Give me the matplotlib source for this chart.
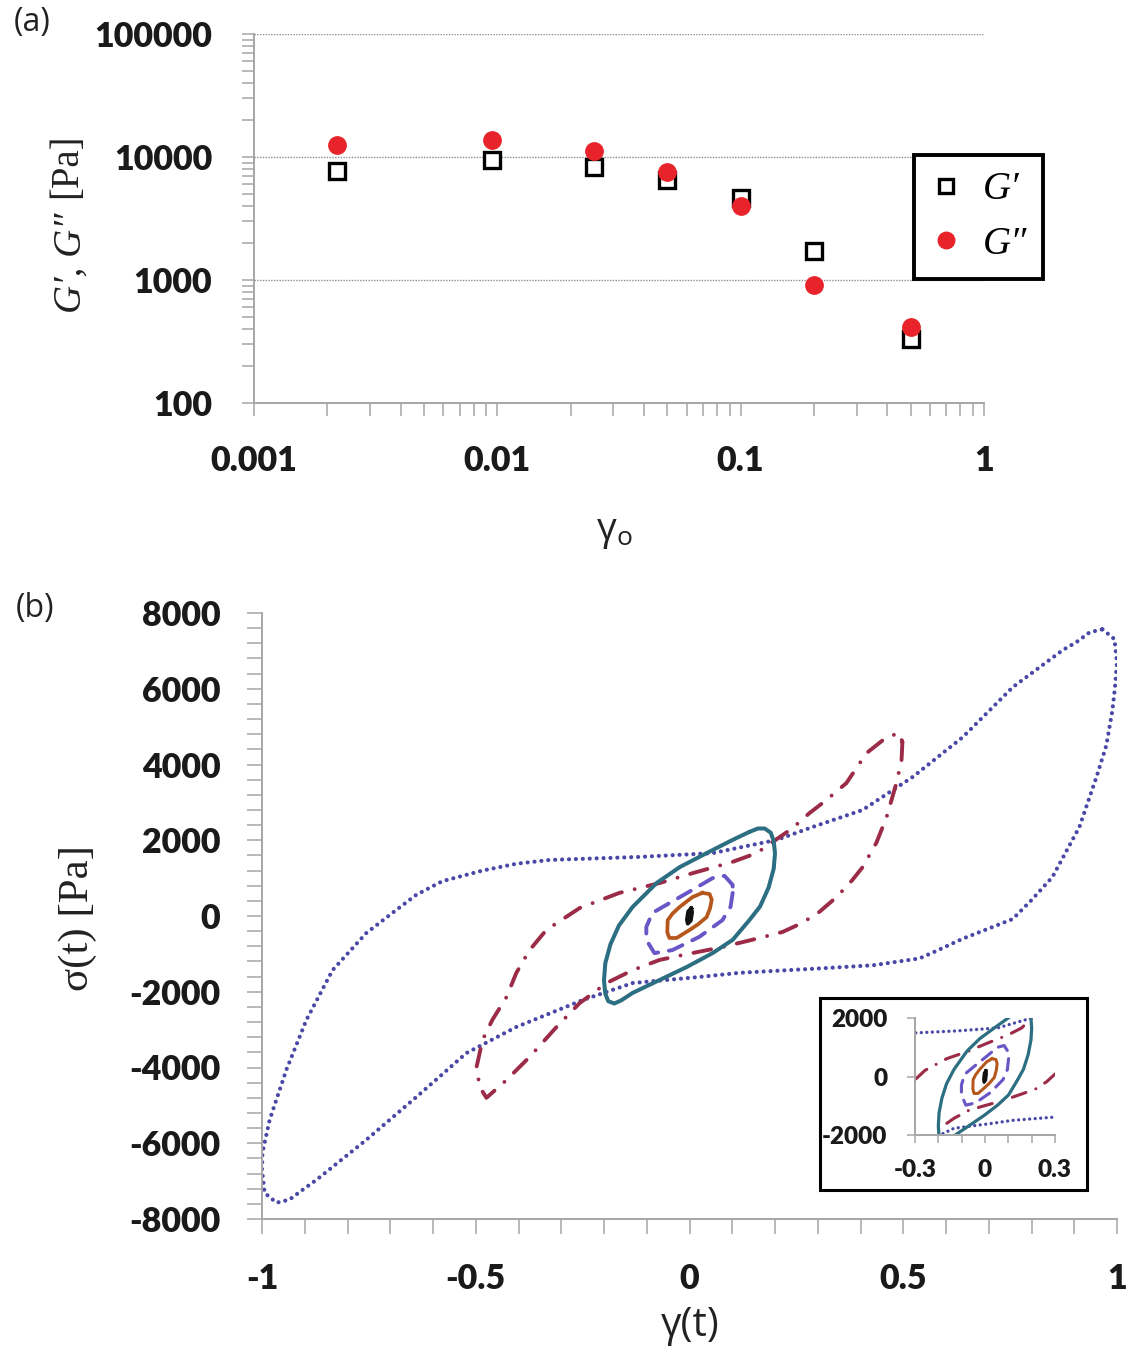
import matplotlib
matplotlib.use("Agg")
import matplotlib.pyplot as plt
from matplotlib.patches import Rectangle
from matplotlib.ticker import FixedLocator, FixedFormatter, LogLocator, MultipleLocator, NullFormatter

# ---------------- (a) strain-amplitude sweep ----------------
gamma0 = [0.0022, 0.0095, 0.025, 0.05, 0.1, 0.2, 0.5]
G_storage = [7700, 9450, 8300, 6500, 4650, 1720, 330]
G_loss = [12500, 13700, 11200, 7550, 4000, 910, 415]

a_xticks = [0.001, 0.01, 0.1, 1]
a_xticklabels = ["0.001", "0.01", "0.1", "1"]
a_yticks = [100, 1000, 10000, 100000]
a_yticklabels = ["100", "1000", "10000", "100000"]

# ---------------- (b) Lissajous loops, stress vs strain ----------------
strain_100 = [0.966, 0.994, 1.0, 0.995, 0.989, 0.975, 0.952, 0.912, 0.849, 0.80, 0.756,
              0.70, 0.639, 0.578, 0.538, 0.43, 0.327, 0.117, 0.023, -0.133, -0.250,
              -0.405, -0.522, -0.639, -0.756, -0.873, -0.905, -0.936, -0.966, -0.994, -1.0,
              -0.999, -0.982, -0.943, -0.896, -0.835, -0.756, -0.695, -0.639, -0.578, -0.484,
              -0.405, -0.327, -0.117, 0.054, 0.204, 0.288, 0.405, 0.522, 0.639, 0.756,
              0.873, 0.905, 0.936, 0.966]
stress_100 = [7570, 7310, 6700, 6000, 5410, 4500, 3670, 2350, 1030, 420, -80,
              -330, -600, -920, -1120, -1300, -1370, -1500, -1610, -1770, -2220,
              -2930, -3620, -4780, -5910, -6970, -7230, -7490, -7570, -7310, -6700,
              -6250, -5380, -4060, -2740, -1430, -450, 80, 560, 920, 1200,
              1380, 1480, 1560, 1660, 2010, 2350, 2800, 3670, 4720, 6040,
              7020, 7230, 7490, 7570]

strain_050 = [0.498, 0.496, 0.484, 0.461, 0.437, 0.405, 0.381, 0.344, 0.304, 0.264, 0.218,
              0.164, 0.077, -0.016, -0.070, -0.133, -0.194, -0.257, -0.311, -0.374, -0.428,
              -0.475, -0.491, -0.498, -0.484, -0.461, -0.428, -0.405, -0.374, -0.335, -0.257,
              -0.164, -0.070, 0.007, 0.101, 0.157, 0.241, 0.281, 0.320, 0.367, 0.414,
              0.461, 0.491, 0.498]
stress_050 = [4590, 4120, 3510, 2610, 1930, 1290, 950, 500, 110, -180, -420,
              -580, -820, -1030, -1160, -1430, -1770, -2300, -2930, -3720, -4330,
              -4800, -4510, -3980, -3270, -2740, -2140, -1500, -900, -370, 210,
              610, 870, 1130, 1430, 1660, 2320, 2720, 3060, 3510, 4300,
              4720, 4830, 4590]

strain_020 = [0.140, 0.160, 0.176, 0.190, 0.197, 0.200, 0.197, 0.185, 0.165, 0.140, 0.101,
              0.054, -0.007, -0.070, -0.133, -0.160, -0.176, -0.190, -0.197, -0.200, -0.197,
              -0.185, -0.165, -0.133, -0.077, -0.023, 0.040, 0.101, 0.140]
stress_020 = [2220, 2310, 2310, 2200, 1980, 1650, 1250, 750, 250, -110, -630,
              -980, -1350, -1690, -2030, -2230, -2310, -2250, -2050, -1700, -1250,
              -750, -250, 240, 870, 1290, 1660, 2010, 2220]

strain_010 = [0.101, 0.096, 0.077, 0.023, -0.040, -0.082, -0.101, -0.101, -0.087, -0.047,
              0.007, 0.054, 0.082, 0.101, 0.101]
stress_010 = [610, 240, -110, -550, -900, -980, -630, -290, 80, 340,
              690, 1000, 1060, 820, 610]

strain_005 = [0.030, 0.047, 0.052, 0.048, 0.040, 0.020, 0.0, -0.030, -0.047, -0.052,
              -0.051, -0.040, -0.023, 0.007, 0.030]
stress_005 = [610, 580, 430, 200, -30, -220, -370, -580, -580, -430,
              -110, 60, 240, 500, 610]

strain_001 = [0.004, 0.006, 0.003, -0.004, -0.006, -0.003, 0.004]
stress_001 = [200, 100, -120, -200, -100, 120, 200]

b_xticks = [-1, -0.5, 0, 0.5, 1]
b_xticklabels = ["-1", "-0.5", "0", "0.5", "1"]
b_yticks = [-8000, -6000, -4000, -2000, 0, 2000, 4000, 6000, 8000]
b_yticklabels = ["-8000", "-6000", "-4000", "-2000", "0", "2000", "4000", "6000", "8000"]

in_xticks = [-0.3, 0, 0.3]
in_xticklabels = ["-0.3", "0", "0.3"]
in_yticks = [-2000, 0, 2000]
in_yticklabels = ["-2000", "0", "2000"]

# ---------------- styling ----------------
W, H = 1134, 1353
SPINE = "#a6a6a6"
TICKFAMILY = ["Lato", "DejaVu Sans"]
SERIF = ["Liberation Serif", "DejaVu Serif"]
SANS = ["Open Sans", "DejaVu Sans"]

c_blue, c_red, c_teal = "#4a48a6", "#9c2b47", "#2d6f82"
c_purple, c_orange, c_black = "#6a56c6", "#b5561d", "#111111"


def fx(px):
    return px / W


def fy(py):
    return 1 - py / H


fig = plt.figure(figsize=(W / 100, H / 100), dpi=100)
fig.patch.set_facecolor("white")


def style_axes(ax):
    for s in ("top", "right"):
        ax.spines[s].set_visible(False)
    for s in ("left", "bottom"):
        ax.spines[s].set_color(SPINE)
        ax.spines[s].set_linewidth(1.4)
    ax.tick_params(which="both", direction="out", color=SPINE, width=1.1)


def bold_labels(ax):
    for lab in ax.get_xticklabels() + ax.get_yticklabels():
        lab.set_fontfamily(TICKFAMILY)
        lab.set_fontweight("heavy")
        lab.set_color("#1a1a1a")


# ---------------- panel (a) ----------------
axa = fig.add_axes([fx(254), fy(403), fx(984) - fx(254), fy(34) - fy(403)])
style_axes(axa)
axa.set_xscale("log")
axa.set_yscale("log")
axa.set_xlim(0.001, 1)
axa.set_ylim(100, 100000)
axa.xaxis.set_major_locator(FixedLocator(a_xticks))
axa.xaxis.set_major_formatter(FixedFormatter(a_xticklabels))
axa.yaxis.set_major_locator(FixedLocator(a_yticks))
axa.yaxis.set_major_formatter(FixedFormatter(a_yticklabels))
axa.xaxis.set_minor_locator(LogLocator(base=10, subs=range(2, 10)))
axa.yaxis.set_minor_locator(LogLocator(base=10, subs=range(2, 10)))
axa.xaxis.set_minor_formatter(NullFormatter())
axa.yaxis.set_minor_formatter(NullFormatter())
axa.tick_params(which="both", length=9)
axa.tick_params(axis="x", which="major", pad=21, labelsize=24.5)
axa.tick_params(axis="y", which="major", pad=21, labelsize=24.5)
bold_labels(axa)
axa.yaxis.grid(True, which="major", linestyle=(0, (1, 1)), color="#8c8c8c", linewidth=1.0)
axa.set_axisbelow(True)

h1, = axa.plot(gamma0, G_storage, linestyle="none", marker="s", markersize=11,
               markerfacecolor="white", markeredgecolor="black", markeredgewidth=2.4,
               label="G\u2032", zorder=3)
h2, = axa.plot(gamma0, G_loss, linestyle="none", marker="o", markersize=12.5,
               markerfacecolor="#e8242a", markeredgecolor="#e8242a",
               label="G\u2033", zorder=4)
leg = axa.legend(handles=[h1, h2], loc="upper left", bbox_to_anchor=(0.904, 0.672),
                 frameon=True, fancybox=False, framealpha=1, edgecolor="black",
                 prop=dict(family=SERIF, style="italic", size=28),
                 handlelength=0.8, handletextpad=0.55, borderpad=0.42,
                 labelspacing=0.45, borderaxespad=0, markerscale=0.95)
leg.get_frame().set_linewidth(2.8)
leg.set_clip_on(False)

fig.text(fx(32), fy(22), "(a)", ha="center", va="center", fontsize=23,
         family=SANS, color="#222222")
fig.text(fx(71), fy(263), "G\u2032, G\u2033", rotation=90, ha="center", va="center",
         fontsize=28, family=SERIF, style="italic", color="#222222")
fig.text(fx(67), fy(166), "[Pa]", rotation=90, ha="center", va="center",
         fontsize=28, family=SERIF, color="#222222")
fig.text(fx(607), fy(530), "\u03b3", ha="center", va="center", fontsize=28,
         family=SANS, color="#222222")
fig.text(fx(624), fy(538), "o", ha="center", va="center", fontsize=19,
         family=SANS, color="#222222")

# ---------------- panel (b) ----------------
axb = fig.add_axes([fx(262), fy(1219), fx(1117) - fx(262), fy(613) - fy(1219)])
style_axes(axb)
axb.set_xlim(-1, 1)
axb.set_ylim(-8000, 8000)
axb.xaxis.set_major_locator(FixedLocator(b_xticks))
axb.xaxis.set_major_formatter(FixedFormatter(b_xticklabels))
axb.yaxis.set_major_locator(FixedLocator(b_yticks))
axb.yaxis.set_major_formatter(FixedFormatter(b_yticklabels))
axb.xaxis.set_minor_locator(MultipleLocator(0.1))
axb.yaxis.set_minor_locator(MultipleLocator(400))
axb.tick_params(which="both", length=11)
axb.tick_params(axis="x", which="major", pad=21, labelsize=24.5)
axb.tick_params(axis="y", which="major", pad=19, labelsize=24.5)
bold_labels(axb)


def draw_loops(ax, scale=1.0):
    ax.plot(strain_100, stress_100, color=c_blue, lw=3.0 * scale,
            linestyle=(0, (0.01, 1.65)), dash_capstyle="round")
    ax.plot(strain_050, stress_050, color=c_red, lw=2.8 * scale,
            linestyle=(0, (4.6, 3.4, 0.01, 3.4)), dash_capstyle="round")
    ax.plot(strain_020, stress_020, color=c_teal, lw=2.9 * scale,
            solid_capstyle="round", solid_joinstyle="round")
    ax.plot(strain_010, stress_010, color=c_purple, lw=2.8 * scale,
            linestyle=(0, (3.8, 2.8)), dash_capstyle="round")
    ax.plot(strain_005, stress_005, color=c_orange, lw=2.7 * scale,
            solid_joinstyle="round")
    ax.plot(strain_001, stress_001, color=c_black, lw=2.8 * scale,
            solid_joinstyle="round")


draw_loops(axb)

fig.text(fx(35), fy(608), "(b)", ha="center", va="center", fontsize=23,
         family=SANS, color="#222222")
fig.text(fx(78), fy(918), "\u03c3(t) [Pa]", rotation=90, ha="center", va="center",
         fontsize=31, family=SERIF, color="#222222")
fig.text(fx(690), fy(1326), "\u03b3(t)", ha="center", va="center", fontsize=29,
         family=SANS, color="#222222")

# ---------------- inset ----------------
fig.add_artist(Rectangle((fx(820), fy(1190)), fx(1087) - fx(820), fy(998) - fy(1190),
                         transform=fig.transFigure, fill=False, edgecolor="black",
                         linewidth=2.2))
axi = fig.add_axes([fx(915), fy(1135), fx(1055) - fx(915), fy(1018) - fy(1135)])
style_axes(axi)
axi.patch.set_alpha(0)
axi.set_xlim(-0.3, 0.3)
axi.set_ylim(-2000, 2000)
axi.xaxis.set_major_locator(FixedLocator(in_xticks))
axi.xaxis.set_major_formatter(FixedFormatter(in_xticklabels))
axi.yaxis.set_major_locator(FixedLocator(in_yticks))
axi.yaxis.set_major_formatter(FixedFormatter(in_yticklabels))
axi.xaxis.set_minor_locator(MultipleLocator(0.1))
axi.tick_params(which="both", length=6)
axi.tick_params(axis="x", which="major", pad=11, labelsize=17.5)
axi.tick_params(axis="y", which="major", pad=14, labelsize=17.5)
bold_labels(axi)
draw_loops(axi, scale=0.8)

fig.savefig("out.png", dpi=100, facecolor="white")
